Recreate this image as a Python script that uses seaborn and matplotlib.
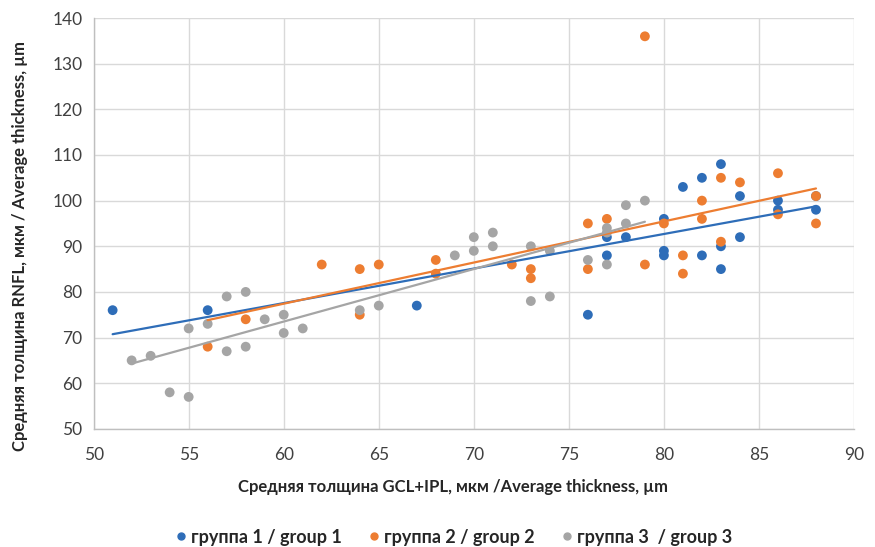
import matplotlib
matplotlib.use("Agg")
import matplotlib.pyplot as plt
import seaborn as sns
import pandas as pd

# group 1 / blue
g1_x = [51, 56, 67, 76, 77, 77, 78, 80, 80, 80, 81, 82, 82, 83, 83, 83, 84, 84, 86, 86, 88, 88]
g1_y = [76, 76, 77, 75, 88, 92, 92, 96, 89, 88, 103, 105, 88, 108, 90, 85, 101, 92, 100, 98, 98, 101]

# group 2 / orange
g2_x = [56, 58, 62, 64, 64, 65, 68, 68, 72, 73, 73, 76, 76, 77, 79, 79, 80, 81, 81, 82, 82, 83, 83, 84, 86, 86, 88, 88]
g2_y = [68, 74, 86, 85, 75, 86, 87, 84, 86, 85, 83, 95, 85, 96, 136, 86, 95, 88, 84, 100, 96, 105, 91, 104, 106, 97, 101, 95]

# group 3 / grey
g3_x = [52, 53, 54, 55, 55, 56, 57, 57, 58, 58, 59, 60, 60, 61, 64, 65, 69, 70, 70, 71, 71, 73, 73, 74, 74, 76, 77, 77, 77, 78, 78, 79]
g3_y = [65, 66, 58, 57, 72, 73, 79, 67, 80, 68, 74, 75, 71, 72, 76, 77, 88, 92, 89, 93, 90, 90, 78, 89, 79, 87, 94, 93, 86, 99, 95, 100]

labels = ["группа 1 / group 1", "группа 2 / group 2", "группа 3  / group 3"]
colors = ["#2E6DB8", "#ED7D31", "#A5A5A5"]

df = pd.concat([
    pd.DataFrame({"x": g1_x, "y": g1_y, "grp": labels[0]}),
    pd.DataFrame({"x": g2_x, "y": g2_y, "grp": labels[1]}),
    pd.DataFrame({"x": g3_x, "y": g3_y, "grp": labels[2]}),
])

sns.set_style("white")
plt.rcParams["font.family"] = ["Lato", "DejaVu Sans"]

fig = plt.figure(figsize=(8.75, 5.47), dpi=100)
ax = fig.add_axes([0.107, 0.216, 0.869, 0.751])

sns.scatterplot(data=df, x="x", y="y", hue="grp", palette=colors, s=50,
                edgecolor="none", ax=ax, legend=False, zorder=3)
for lab, c in zip(labels, colors):
    sub = df[df.grp == lab]
    sns.regplot(data=sub, x="x", y="y", scatter=False, ci=None, truncate=True,
                color=c, line_kws={"lw": 1.6, "zorder": 4}, ax=ax)

ax.set_xlim(50, 90)
ax.set_ylim(50, 140)
ax.set_xticks(range(50, 91, 5))
ax.set_yticks(range(50, 141, 10))
ax.grid(True, color="#D9D9D9", lw=1)
ax.set_axisbelow(True)
for s in ["top", "right"]:
    ax.spines[s].set_visible(False)
for s in ["left", "bottom"]:
    ax.spines[s].set_color("#BFBFBF")
    ax.spines[s].set_linewidth(1)
ax.tick_params(axis="both", length=0, labelsize=12.5, colors="#404040")
ax.tick_params(axis="x", pad=13)
ax.tick_params(axis="y", pad=8)
ax.set_xlabel("")
ax.set_ylabel("")

# axis titles placed like the Excel original (slightly left/below centre)
fig.text(453 / 875, 1 - 487 / 547, "Средняя толщина GCL+IPL, мкм /Average thickness, µm",
         ha="center", va="center", fontsize=12, fontweight="bold", color="#262626")
fig.text(20 / 875, 1 - 246 / 547, "Средняя толщина RNFL, мкм / Average thickness, µm",
         ha="center", va="center", rotation=90, fontsize=12, fontweight="bold", color="#262626")

handles = [plt.Line2D([], [], ls="", marker="o", ms=5, color=c) for c in colors]
fig.legend(handles, labels, loc="center", ncol=3, frameon=False,
           bbox_to_anchor=(454 / 875, 1 - 537 / 547), handlelength=0.6,
           handletextpad=0.25, columnspacing=1.5,
           prop={"size": 13, "weight": "bold"}, labelcolor="#262626")

fig.savefig("out.png", dpi=100)
